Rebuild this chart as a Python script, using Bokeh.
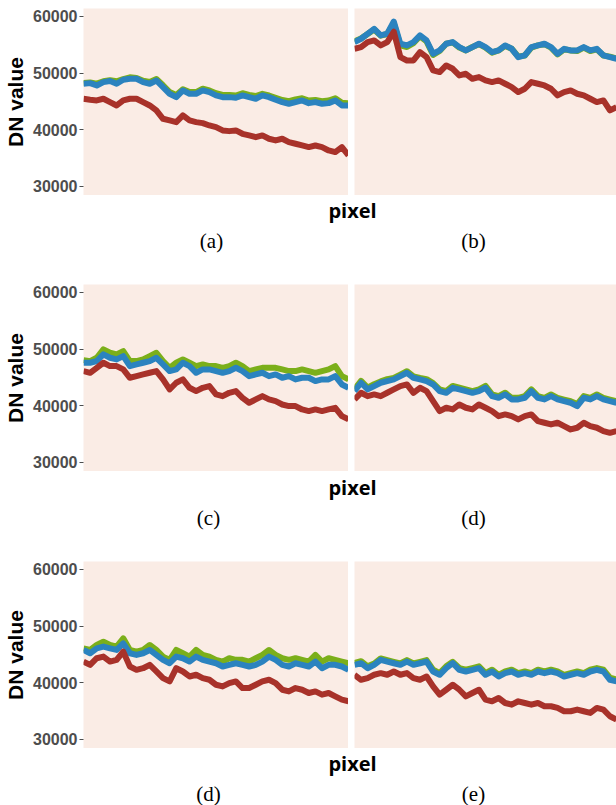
from bokeh.plotting import figure
from bokeh.layouts import column, row
from bokeh.models import Range1d, FixedTicker, Label, NumeralTickFormatter
from bokeh.embed import file_html
from bokeh.resources import INLINE

# ---------------- data (DN values) ----------------
y_ticks = [30000, 40000, 50000, 60000]
y_label = "DN value"
x_label = "pixel"
panel_labels = ["(a)", "(b)", "(c)", "(d)", "(d)", "(e)"]

green_a = [48250, 48350, 48150, 48550, 48750, 48550, 48950, 49250, 49150, 48650, 48450, 48950, 47850, 46650, 46150, 47150, 46650, 46650, 47250, 46950, 46450, 46150, 46150, 46050, 46450, 46150, 45950, 46350, 46050, 45650, 45250, 45050, 45350, 45550, 45150, 45250, 45050, 45150, 45550, 44750, 44650]
blue_a = [48120, 48230, 47820, 48410, 48590, 48120, 48820, 49000, 49000, 48410, 48120, 48700, 47530, 46350, 45760, 46940, 46350, 46350, 46940, 46650, 46060, 45760, 45760, 45650, 46060, 45760, 45470, 46060, 45760, 45290, 44880, 44590, 44880, 45180, 44700, 44880, 44590, 44700, 45180, 44290, 44290]
red_a = [45470, 45290, 45180, 45470, 44880, 44290, 45180, 45470, 45470, 44880, 44290, 43410, 41940, 41650, 41350, 42530, 41650, 41350, 41170, 40760, 40470, 39880, 39760, 39880, 39290, 39000, 38700, 39000, 38410, 38120, 38410, 37820, 37530, 37230, 36940, 37230, 36940, 36350, 36060, 36940, 35470]

green_b = [55600, 56100, 56900, 57700, 56600, 56900, 58800, 54900, 54600, 55300, 56500, 55600, 53200, 53900, 55200, 55400, 54500, 54000, 54600, 55100, 54500, 53600, 54000, 54800, 54300, 52900, 53100, 54500, 54900, 55100, 54500, 53300, 54200, 54000, 53900, 54500, 53900, 54200, 53100, 52900, 52600]
blue_b = [55470, 56060, 56940, 57820, 56650, 56940, 59100, 55180, 54880, 55470, 56650, 55760, 53410, 54000, 55180, 55470, 54590, 54000, 54590, 55180, 54590, 53700, 54000, 54880, 54290, 52820, 53120, 54590, 54880, 55180, 54590, 53410, 54290, 54000, 54000, 54590, 54000, 54290, 53120, 52820, 52530]
red_b = [54290, 54590, 55470, 55760, 54880, 55470, 57300, 52820, 52230, 52230, 53700, 52820, 50470, 50180, 51350, 50760, 49590, 49880, 49000, 49290, 48710, 48410, 48710, 48120, 47530, 46650, 47240, 48410, 48120, 47820, 47240, 46060, 46650, 46940, 46350, 46060, 45470, 44880, 45180, 43410, 44000]

green_c = [48060, 47880, 48470, 49940, 49350, 49060, 49650, 47880, 47880, 48180, 48760, 49350, 47880, 46700, 47590, 48180, 47590, 47000, 47290, 47000, 47000, 46700, 47000, 47590, 47000, 46120, 46410, 46700, 46700, 46700, 46410, 46120, 46120, 46410, 46120, 45820, 46120, 46410, 47000, 45230, 44650]
blue_c = [47590, 47590, 47880, 49060, 48470, 48180, 48760, 47000, 47290, 47590, 47880, 48470, 47290, 46120, 46410, 47590, 47000, 45820, 46410, 46410, 46120, 45820, 46120, 46700, 46120, 45230, 45530, 45820, 45230, 45530, 44940, 45230, 44650, 44940, 44940, 44350, 44650, 44650, 45230, 43760, 43170]
red_c = [46120, 45820, 46700, 47590, 47000, 47000, 46410, 44940, 45230, 45530, 45820, 46120, 44650, 42880, 44060, 44650, 43170, 42590, 43170, 43470, 42000, 41700, 42290, 42590, 41410, 40530, 41120, 41700, 41120, 40820, 40230, 39940, 39940, 39350, 39060, 39350, 39060, 39350, 39640, 38170, 37590]

green_d = [42900, 44400, 43200, 43800, 44300, 44700, 44900, 45500, 46100, 45200, 44900, 44700, 44000, 42900, 42600, 43500, 43200, 42900, 42600, 42900, 43500, 42000, 41700, 42300, 41400, 41400, 41700, 42900, 41700, 41400, 42000, 41400, 41100, 40800, 40300, 41700, 41400, 42000, 41400, 41100, 40800]
blue_d = [42590, 44060, 42880, 43470, 44060, 44350, 44650, 45230, 45820, 44940, 44650, 44350, 43760, 42590, 42290, 43170, 42880, 42590, 42290, 42590, 43170, 41700, 41410, 42000, 41120, 41120, 41410, 42590, 41410, 41120, 41700, 41120, 40820, 40530, 39940, 41410, 41120, 41700, 41120, 40820, 40530]
red_d = [41120, 42290, 41700, 42000, 41700, 42290, 42880, 43470, 43760, 42290, 43170, 42590, 40820, 39060, 39650, 39350, 40230, 39650, 39350, 40230, 39650, 39060, 38170, 38470, 38170, 37590, 38170, 38470, 37290, 37000, 36700, 37000, 36410, 35820, 36120, 37000, 36410, 36120, 35530, 35230, 35530]

green_d2 = [46080, 45790, 46670, 47250, 46670, 46380, 47840, 45790, 45500, 45790, 46670, 45790, 44620, 44040, 45790, 45210, 44620, 45790, 44910, 44620, 44040, 43740, 44330, 44040, 44040, 43740, 44330, 44910, 45790, 44910, 44330, 44040, 44330, 44040, 43740, 44910, 43740, 44330, 44040, 43740, 43450]
blue_d2 = [45790, 45210, 46080, 46380, 46080, 45790, 46960, 45210, 44910, 45210, 45790, 44910, 44040, 43450, 44620, 44330, 43740, 44620, 44040, 43740, 43450, 42870, 43160, 43450, 43160, 42870, 43160, 43740, 44620, 44040, 43160, 42870, 43450, 43160, 42870, 43740, 42570, 43160, 43160, 42870, 42280]
red_d2 = [43740, 43160, 44330, 44620, 43740, 44040, 45500, 42870, 42280, 42570, 43160, 41990, 40820, 40240, 42570, 41990, 41110, 41410, 40820, 40530, 39650, 39360, 39940, 40240, 39070, 39070, 39650, 40240, 40530, 39940, 38770, 38480, 39070, 38770, 38190, 38480, 37900, 38190, 37600, 37020, 36730]

green_e = [43500, 43800, 42900, 43400, 44300, 44000, 43700, 43400, 44000, 43400, 43700, 44000, 42300, 41700, 42900, 43700, 42600, 42300, 42600, 42900, 41700, 42300, 41400, 42000, 42300, 41700, 42000, 41700, 42300, 42000, 42300, 42000, 41400, 41700, 42000, 41700, 42300, 42600, 42300, 40900, 40600]
blue_e = [43160, 43450, 42570, 43160, 44040, 43740, 43450, 43160, 43740, 43160, 43450, 43740, 41990, 41410, 42570, 43450, 42280, 41990, 42280, 42570, 41410, 41990, 41110, 41700, 41990, 41410, 41700, 41410, 41990, 41700, 41990, 41700, 41110, 41410, 41700, 41410, 41990, 42280, 41990, 40530, 40240]
red_e = [41410, 40530, 40820, 41410, 41700, 41410, 41990, 41410, 41700, 40820, 40530, 41110, 39360, 37900, 38770, 39650, 38770, 37600, 38190, 38770, 37020, 36730, 37310, 36430, 36140, 36730, 36430, 36140, 36430, 35850, 35850, 35560, 34970, 34970, 35270, 34970, 34680, 35560, 35270, 34090, 33510]

panels = [
    (green_a, blue_a, red_a), (green_b, blue_b, red_b),
    (green_c, blue_c, red_c), (green_d, blue_d, red_d),
    (green_d2, blue_d2, red_d2), (green_e, blue_e, red_e),
]

# ---------------- styles ----------------
PANEL_BG = "#FAECE5"
GREEN = "#7BAF1A"
BLUE = "#2B83BF"
RED = "#A8322A"
LW = 6
PANEL_H = 187
Y_LO, Y_HI = 28400, 61400


def make_panel(series, with_axis, top):
    green, blue, red = series
    n = len(blue)
    xs = list(range(n))
    p = figure(width=348 if with_axis else 268, height=PANEL_H + top,
               x_range=Range1d(0, n - 1), y_range=Range1d(Y_LO, Y_HI),
               output_backend="svg", toolbar_location=None,
               x_axis_location=None,
               y_axis_location="left" if with_axis else None,
               min_border_left=83 if with_axis else 6, min_border_right=0,
               min_border_top=top, min_border_bottom=0)
    p.background_fill_color = PANEL_BG
    p.border_fill_color = "white"
    p.outline_line_color = None
    p.xgrid.visible = False
    p.ygrid.visible = False
    for ys, c in ((green, GREEN), (blue, BLUE), (red, RED)):
        p.line(xs, ys, line_color=c, line_width=LW, line_join="round")
    if with_axis:
        ax = p.yaxis[0]
        ax.ticker = FixedTicker(ticks=y_ticks)
        ax.formatter = NumeralTickFormatter(format="0")
        ax.axis_label = y_label
        ax.axis_label_text_font = "Liberation Sans"
        ax.axis_label_text_font_style = "bold"
        ax.axis_label_text_font_size = "21px"
        ax.axis_label_text_color = "black"
        ax.axis_label_standoff = 3
        ax.major_label_text_font = "Liberation Sans"
        ax.major_label_text_font_style = "bold"
        ax.major_label_text_font_size = "16px"
        ax.major_label_text_color = "#4D4D4D"
        ax.major_label_standoff = 2
        ax.axis_line_color = None
        ax.major_tick_in = 0
        ax.major_tick_out = 4
        ax.major_tick_line_color = "#4D4D4D"
        ax.minor_tick_line_color = None
    return p


def make_text(h, left_lab, right_lab, pix_off, lab_off, lab_x):
    t = figure(width=616, height=h, x_range=Range1d(0, 616), y_range=Range1d(0, h),
               output_backend="svg", toolbar_location=None,
               x_axis_location=None, y_axis_location=None,
               min_border_left=0, min_border_right=0, min_border_top=0, min_border_bottom=0)
    t.outline_line_color = None
    t.background_fill_color = "white"
    t.border_fill_color = "white"
    t.xgrid.visible = False
    t.ygrid.visible = False
    t.add_layout(Label(x=352, y=h - pix_off, text=x_label, text_align="center",
                       text_baseline="middle", text_font="Open Sans",
                       text_font_style="bold", text_font_size="20px", text_color="black"))
    for lab, x in ((left_lab, lab_x[0]), (right_lab, lab_x[1])):
        t.add_layout(Label(x=x, y=h - lab_off, text=lab, text_align="center",
                           text_baseline="middle", text_font="Liberation Serif",
                           text_font_size="21px", text_color="black"))
    return t


rows = []
tops = [8, 0, 0]
text_specs = [(89, 15, 45, (211, 473)), (90, 16, 46, (208, 473)), (57, 15, 45, (208, 473))]
for i in range(3):
    left = make_panel(panels[2 * i], True, tops[i])
    right = make_panel(panels[2 * i + 1], False, tops[i])
    h, po, lo, lx = text_specs[i]
    txt = make_text(h, panel_labels[2 * i], panel_labels[2 * i + 1], po, lo, lx)
    rows.append(row(left, right))
    rows.append(txt)

layout = column(*rows)
open("out.html", "w").write(file_html(layout, INLINE))
